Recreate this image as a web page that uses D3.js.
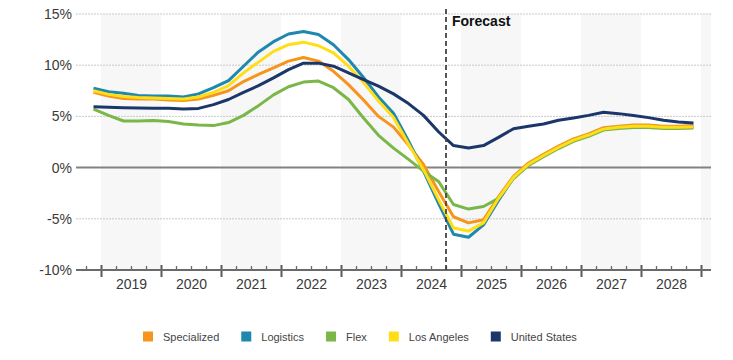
<!DOCTYPE html>
<html>
<head>
<meta charset="utf-8">
<script src="https://cdn.jsdelivr.net/npm/d3@7"></script>
<style>
  html, body { margin: 0; padding: 0; background: #fff; }
  svg { display: block; font-family: "Liberation Sans", Arial, sans-serif; }
</style>
</head>
<body>
<svg id="chart" width="733" height="360"></svg>
<script>
// ---- Data (quarterly, 2018 Q4 .. 2028 Q4) ----
const startYear = 2018, startQuarter = 4;
const yearLabels = ["2019","2020","2021","2022","2023","2024","2025","2026","2027","2028"];
const yTicks = [-10, -5, 0, 5, 10, 15];
const forecastStart = 2024.75;
const forecastLabel = "Forecast";

const seriesNames = ["Specialized", "Logistics", "Flex", "Los Angeles", "United States"];
const seriesColors = ["#F7941D", "#1E88AE", "#7AB648", "#FFDE17", "#1B3668"];

const specialized = [7.35, 7.0, 6.75, 6.7, 6.7, 6.6, 6.55, 6.7, 7.05, 7.5, 8.4, 9.1, 9.75, 10.4, 10.75, 10.4, 9.4, 8.1, 6.6, 5.0, 3.95, 2.2, 0.3, -2.3, -4.8, -5.4, -5.1, -2.85, -0.85, 0.45, 1.3, 2.1, 2.8, 3.3, 3.9, 4.05, 4.15, 4.15, 4.05, 4.05, 4.1];
const logistics   = [7.75, 7.4, 7.25, 7.05, 7.0, 7.0, 6.9, 7.2, 7.8, 8.5, 9.9, 11.3, 12.3, 13.05, 13.3, 13.0, 12.0, 10.55, 8.8, 6.9, 5.3, 2.6, -0.35, -3.5, -6.5, -6.8, -5.6, -3.2, -0.98, 0.31, 1.16, 1.96, 2.66, 3.16, 3.76, 3.91, 4.01, 4.01, 3.91, 3.91, 3.96];
const flex        = [5.7, 5.1, 4.55, 4.55, 4.6, 4.5, 4.25, 4.15, 4.1, 4.4, 5.1, 6.05, 7.1, 7.9, 8.35, 8.45, 7.8, 6.65, 4.85, 3.15, 1.9, 0.8, -0.35, -1.35, -3.6, -4.05, -3.8, -3.0, -1.08, 0.21, 1.06, 1.86, 2.56, 3.06, 3.66, 3.81, 3.91, 3.91, 3.81, 3.81, 3.86];
const losAngeles  = [7.5, 7.15, 6.95, 6.85, 6.8, 6.75, 6.7, 6.9, 7.35, 8.0, 9.25, 10.3, 11.35, 12.0, 12.25, 11.9, 11.2, 9.9, 8.3, 6.5, 4.9, 2.3, -0.2, -3.1, -5.9, -6.2, -5.4, -3.0, -0.96, 0.33, 1.18, 1.98, 2.68, 3.18, 3.78, 3.93, 4.03, 4.03, 3.93, 3.93, 3.98];
const unitedStates= [5.95, 5.9, 5.85, 5.82, 5.8, 5.8, 5.72, 5.78, 6.15, 6.65, 7.35, 8.0, 8.76, 9.57, 10.2, 10.2, 9.9, 9.25, 8.6, 7.95, 7.2, 6.25, 5.1, 3.5, 2.15, 1.92, 2.15, 2.95, 3.8, 4.04, 4.26, 4.62, 4.85, 5.1, 5.4, 5.27, 5.08, 4.88, 4.62, 4.46, 4.36];

const seriesValues = [specialized, logistics, flex, losAngeles, unitedStates];

// ---- Layout ----
const svg = d3.select("#chart");
const plotLeft = 76, plotRight = 711, plotTop = 14, plotBottom = 270;

const x = d3.scaleLinear()
  .domain([2018 + 7/12, 2029 + 1/6])
  .range([plotLeft, plotRight]);
const y = d3.scaleLinear()
  .domain([-10, 15])
  .range([plotBottom, plotTop]);

const quarterTime = i => {
  const q = startQuarter - 1 + i;
  return startYear + Math.floor(q / 4) + ((q % 4) + 0.5) / 4;
};

// ---- Alternate year shading ----
const years = yearLabels.map(Number).concat([2029]);
svg.append("g").selectAll("rect")
  .data(years.filter(yr => yr % 2 === 1))
  .join("rect")
  .attr("x", d => x(d))
  .attr("width", d => Math.min(x(d + 1), plotRight) - x(d))
  .attr("y", plotTop)
  .attr("height", plotBottom - plotTop)
  .attr("fill", "#f7f7f7");

// ---- Grid lines ----
svg.append("g").selectAll("line")
  .data(yTicks.filter(t => t !== 0 && t !== -10))
  .join("line")
  .attr("x1", plotLeft).attr("x2", plotRight)
  .attr("y1", d => y(d)).attr("y2", d => y(d))
  .attr("stroke", "#c9c9c9")
  .attr("stroke-width", 1)
  .attr("stroke-dasharray", "2,1");

// zero line
svg.append("line")
  .attr("x1", plotLeft).attr("x2", plotRight)
  .attr("y1", y(0)).attr("y2", y(0))
  .attr("stroke", "#828282")
  .attr("stroke-width", 2);

// ---- Y axis labels ----
const yAxis = svg.append("g")
  .attr("transform", `translate(${plotLeft},0)`)
  .call(d3.axisLeft(y).tickValues(yTicks).tickFormat(d => d + "%").tickSize(0).tickPadding(4));
yAxis.select(".domain").remove();
yAxis.selectAll("text")
  .attr("font-family", "'Liberation Sans', Arial, sans-serif")
  .attr("font-size", 14)
  .attr("fill", "#3a3a3a");

// ---- X axis ----
const quarterTicks = d3.range(2018.75, 2029.01, 0.25).filter(t => Math.abs(t - Math.round(t)) > 0.01);
const yearTicks = d3.range(2019, 2030);

const minorAxis = svg.append("g")
  .attr("transform", `translate(0,${plotBottom})`)
  .call(d3.axisTop(x).tickValues(quarterTicks).tickSize(4).tickFormat(""));
minorAxis.select(".domain").remove();
minorAxis.selectAll("line").attr("stroke", "#6a6a6a").attr("stroke-width", 1.3);

const majorAxis = svg.append("g")
  .attr("transform", `translate(0,${plotBottom - 5})`)
  .call(d3.axisBottom(x).tickValues(yearTicks).tickSize(12).tickSizeOuter(0).tickFormat(""));
majorAxis.select(".domain").remove();
majorAxis.selectAll("line").attr("stroke", "#5a5a5a").attr("stroke-width", 2);

// axis baseline
svg.append("line")
  .attr("x1", plotLeft).attr("x2", plotRight)
  .attr("y1", plotBottom).attr("y2", plotBottom)
  .attr("stroke", "#6a6a6a")
  .attr("stroke-width", 2);

const labelAxis = svg.append("g")
  .attr("transform", `translate(0,${plotBottom})`)
  .call(d3.axisBottom(x).tickValues(yearLabels.map(v => +v + 0.5)).tickSize(0).tickPadding(9)
    .tickFormat((d, i) => yearLabels[i]));
labelAxis.select(".domain").remove();
labelAxis.selectAll("text")
  .attr("font-family", "'Liberation Sans', Arial, sans-serif")
  .attr("font-size", 14)
  .attr("fill", "#3a3a3a");

// ---- Lines ----
const line = d3.line()
  .x((d, i) => x(quarterTime(i)))
  .y(d => y(d));

svg.append("g").selectAll("path")
  .data(seriesValues)
  .join("path")
  .attr("d", d => line(d))
  .attr("fill", "none")
  .attr("stroke", (d, i) => seriesColors[i])
  .attr("stroke-width", 3)
  .attr("stroke-linejoin", "round");

// ---- Forecast marker ----
svg.append("line")
  .attr("x1", x(forecastStart)).attr("x2", x(forecastStart))
  .attr("y1", 9).attr("y2", plotBottom)
  .attr("stroke", "#444")
  .attr("stroke-width", 1.8)
  .attr("stroke-dasharray", "5,3");
svg.append("text")
  .attr("x", x(forecastStart) + 6)
  .attr("y", 26)
  .attr("font-size", 14)
  .attr("font-weight", "bold")
  .attr("fill", "#111")
  .text(forecastLabel);

// ---- Legend ----
const legend = svg.append("g").attr("transform", "translate(143,331.5)");
let lx = 0;
seriesNames.forEach((name, i) => {
  const g = legend.append("g").attr("transform", `translate(${lx},0)`);
  g.append("rect").attr("width", 10).attr("height", 10).attr("fill", seriesColors[i]);
  const t = g.append("text")
    .attr("x", 20).attr("y", 9.5)
    .attr("font-size", 11)
    .attr("fill", "#444")
    .text(name);
  lx += 20 + t.node().getComputedTextLength() + 22;
});
</script>
</body>
</html>
